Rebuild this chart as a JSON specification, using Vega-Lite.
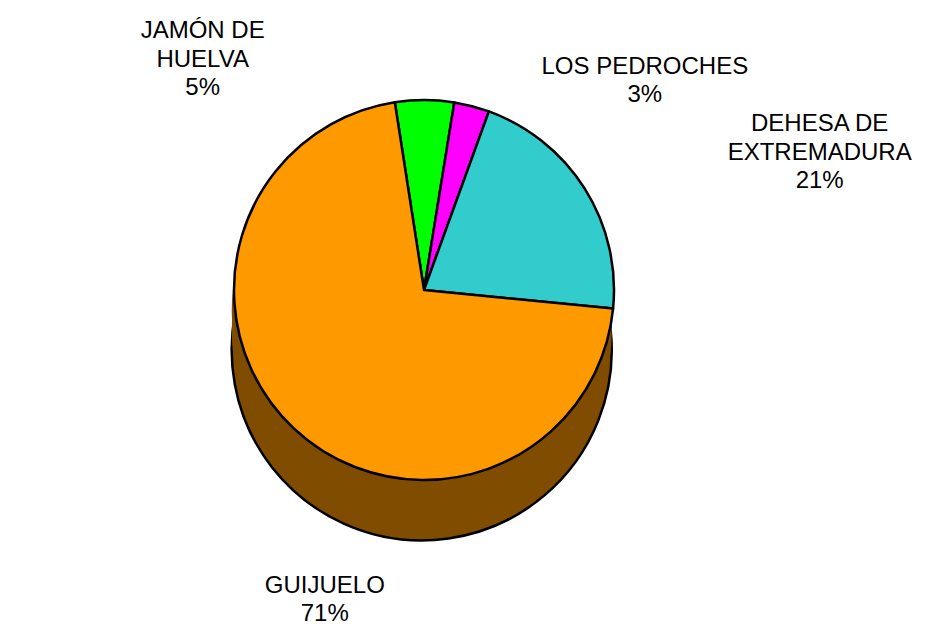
{
  "$schema": "https://vega.github.io/schema/vega-lite/v6.json",
  "width": 928,
  "height": 637,
  "autosize": {"type": "fit", "contains": "padding"},
  "padding": 0,
  "background": "white",
  "config": {"view": {"stroke": null}},
  "data": {
    "values": [
      {"i": 1, "name": "JAMÓN  DE\nHUELVA", "value": 5},
      {"i": 2, "name": "LOS PEDROCHES", "value": 3},
      {"i": 3, "name": "DEHESA  DE\nEXTREMADURA", "value": 21},
      {"i": 4, "name": "GUIJUELO", "value": 71}
    ]
  },
  "layer": [
    {
      "transform": [{"aggregate": [{"op": "sum", "field": "value", "as": "total"}]}],
      "mark": {"type": "arc", "outerRadius": 190, "fill": "#7F4C00", "stroke": "black", "strokeWidth": 2.5, "xOffset": -40, "yOffset": 31.5},
      "encoding": {"theta": {"field": "total", "type": "quantitative", "scale": {"range": [-0.154, 6.129]}}}
    },
    {
      "transform": [{"aggregate": [{"op": "sum", "field": "value", "as": "total"}]}],
      "mark": {"type": "arc", "outerRadius": 190, "fill": "#7F4C00", "strokeWidth": 0, "xOffset": -40, "yOffset": 11.5},
      "encoding": {"theta": {"field": "total", "type": "quantitative"}}
    },
    {
      "transform": [{"aggregate": [{"op": "sum", "field": "value", "as": "total"}]}],
      "mark": {"type": "arc", "outerRadius": 190, "fill": "#7F4C00", "strokeWidth": 0, "xOffset": -40, "yOffset": -8.5},
      "encoding": {"theta": {"field": "total", "type": "quantitative"}}
    },
    {
      "mark": {"type": "arc", "outerRadius": 190, "stroke": "black", "strokeWidth": 2.5, "strokeJoin": "round", "xOffset": -40, "yOffset": -28.5},
      "encoding": {
        "theta": {"field": "value", "type": "quantitative", "stack": true},
        "color": {
          "field": "name",
          "type": "nominal",
          "scale": {
            "domain": ["JAMÓN  DE\nHUELVA", "LOS PEDROCHES", "DEHESA  DE\nEXTREMADURA", "GUIJUELO"],
            "range": ["#00FF00", "#FF00FF", "#33CCCC", "#FF9900"]
          },
          "legend": null
        },
        "order": {"field": "i", "type": "quantitative"}
      }
    },
    {
      "transform": [{"calculate": "datum.name + '\\n' + datum.value + '%'", "as": "label"}],
      "mark": {
        "type": "text",
        "radius": 210,
        "font": "Liberation Sans",
        "fontSize": 24,
        "lineHeight": 28.5,
        "lineBreak": "\n",
        "fill": "black",
        "align": "center",
        "baseline": "middle",
        "xOffset": -40,
        "yOffset": -28.5,
        "dx": {"expr": "datum.i == 1 ? -222 : datum.i == 2 ? 168 : datum.i == 3 ? 218 : 45"},
        "dy": {"expr": "datum.i == 1 ? -49 : datum.i == 2 ? -20 : datum.i == 3 ? -54 : 143"}
      },
      "encoding": {
        "theta": {"field": "value", "type": "quantitative", "stack": true},
        "order": {"field": "i", "type": "quantitative"},
        "text": {"field": "label"}
      }
    }
  ]
}
